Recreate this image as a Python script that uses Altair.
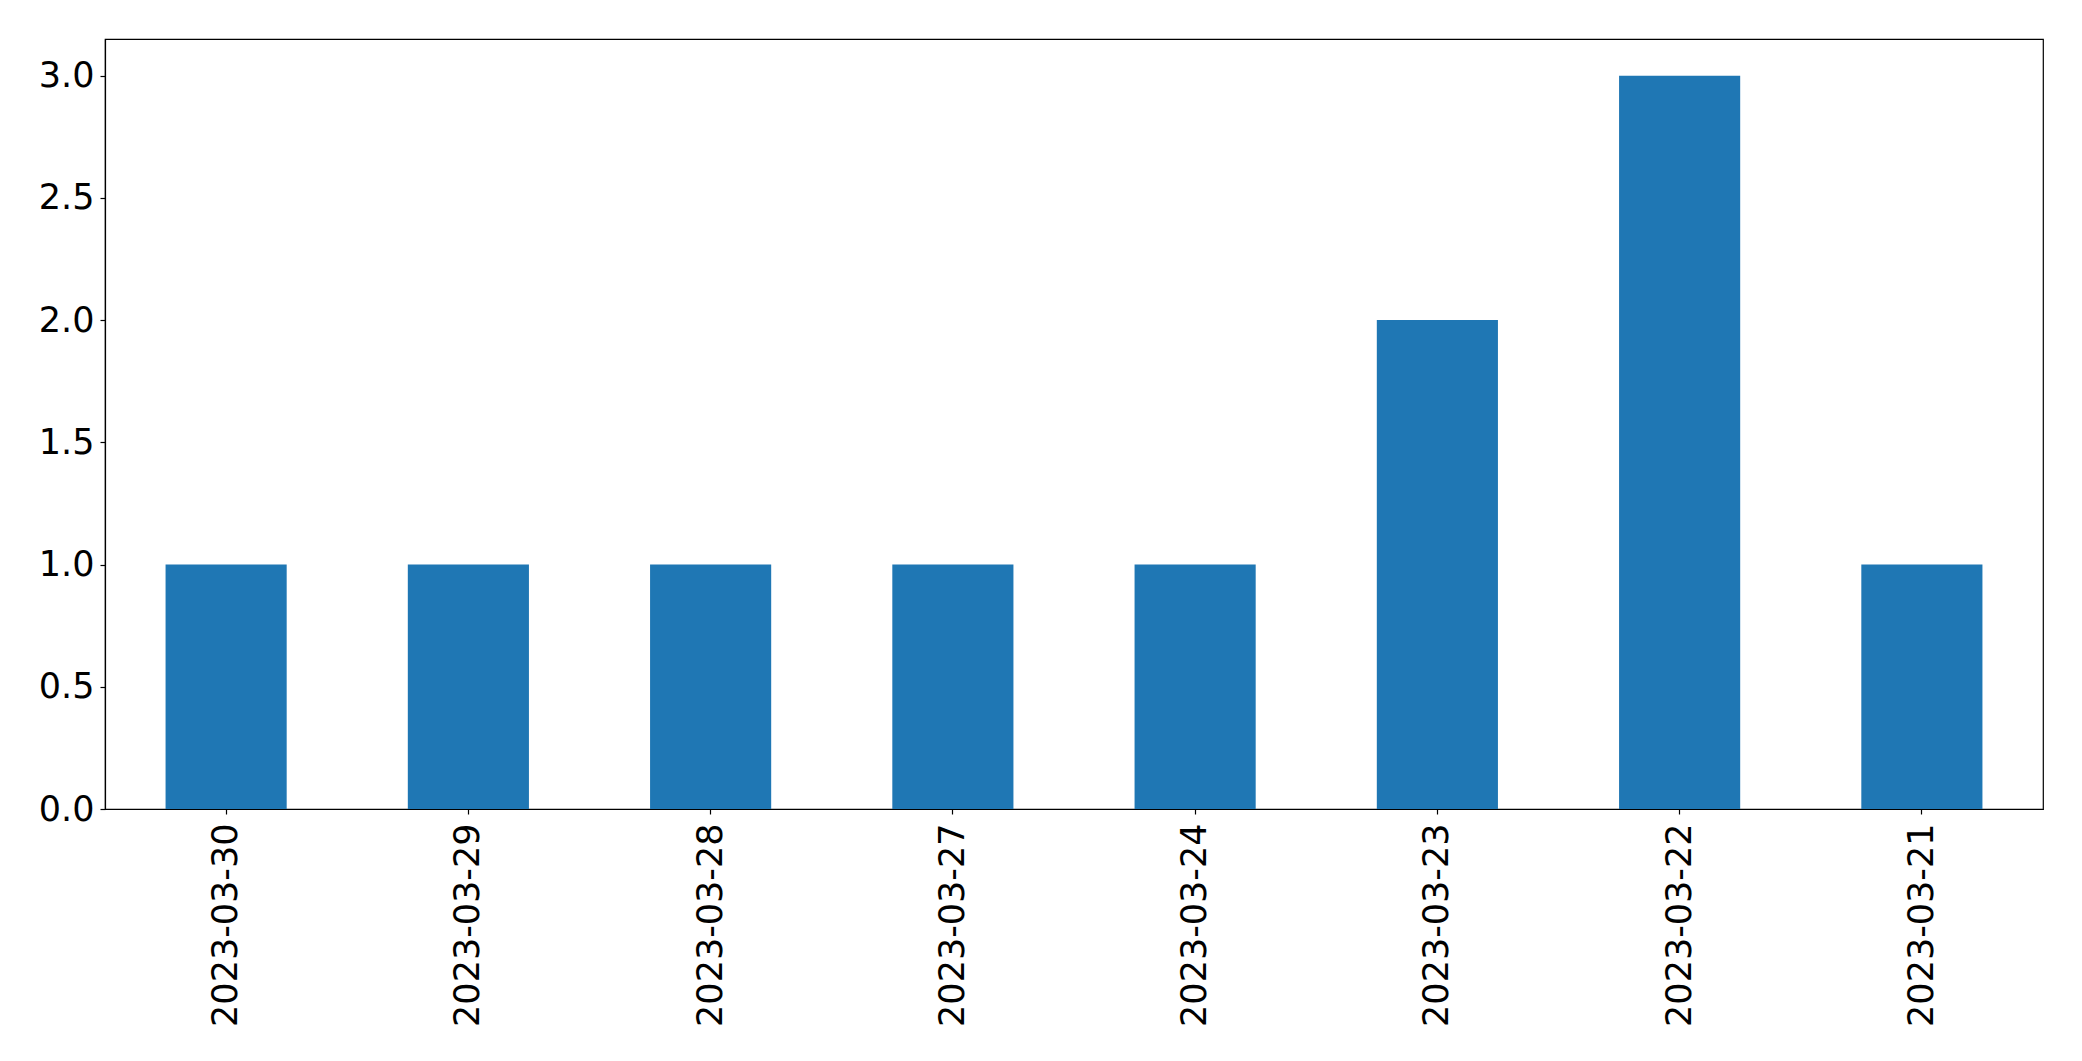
import altair as alt
import pandas as pd

dates = ["2023-03-30", "2023-03-29", "2023-03-28", "2023-03-27",
         "2023-03-24", "2023-03-23", "2023-03-22", "2023-03-21"]
counts = [1, 1, 1, 1, 1, 2, 3, 1]
y_ticks = [0.0, 0.5, 1.0, 1.5, 2.0, 2.5, 3.0]

df = pd.DataFrame({"date": dates, "count": counts})

FONT = "DejaVu Sans"

chart = alt.Chart(df).mark_bar(color="#1f77b4").encode(
    x=alt.X("date:N", sort=None, title=None,
            scale=alt.Scale(paddingInner=0.5, paddingOuter=0.25),
            axis=alt.Axis(labelAngle=270, labelFontSize=35, labelFont=FONT,
                          labelColor="black", tickColor="black", tickSize=5,
                          tickWidth=1.2, domainColor="black", domainWidth=1.2,
                          labelPadding=9, labelLimit=0, grid=False)),
    y=alt.Y("count:Q", title=None,
            scale=alt.Scale(domain=[0, 3.15], nice=False, zero=True),
            axis=alt.Axis(values=y_ticks, format=".1f", labelFontSize=35,
                          labelFont=FONT, labelColor="black", tickColor="black",
                          tickSize=5, tickWidth=1.2, domainColor="black",
                          domainWidth=1.2, labelPadding=6, grid=False)),
).properties(
    width=1938,
    height=770,
    autosize=alt.AutoSizeParams(type="none"),
    padding={"left": 97, "top": 31, "right": 30, "bottom": 240},
).configure(
    background="white"
).configure_view(
    stroke="black", strokeWidth=1.2
)

chart.save("out.html", embed_options={"renderer": "svg", "actions": False})
